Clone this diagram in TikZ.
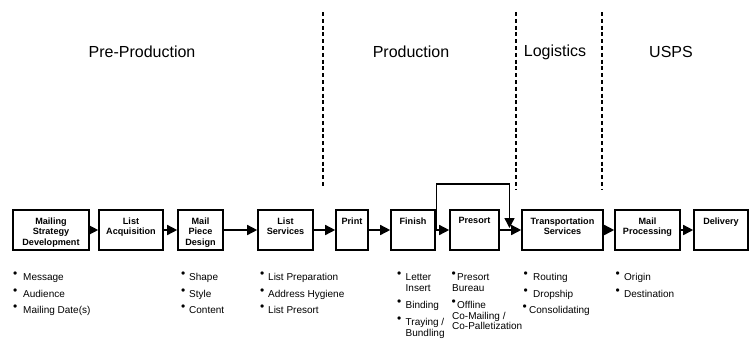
\documentclass[tikz,border=0pt]{standalone}
\usepackage{fontspec}
\setmainfont{Liberation Sans}
\usetikzlibrary{arrows.meta}
\newcommand\bitem[2]{\makebox[#1pt][l]{\raisebox{2.6pt}{\fontsize{12}{12}\selectfont\textbullet}}#2}
\tikzset{
  x=1pt, y=-1pt,
  box/.style={draw, line width=1.6pt, minimum height=40pt, inner sep=0pt},
  lbl/.style={anchor=north, inner sep=0pt, align=center, font=\bfseries\fontsize{9.1}{10.5}\selectfont},
  arr/.style={line width=1.5pt, -{Triangle[length=10pt,width=10pt]}},
  loopline/.style={line width=1.4pt, -{Triangle[length=10pt,width=10pt]}},
  sep/.style={line width=1.3pt, dash pattern=on 4pt off 2.8pt},
  title/.style={font=\fontsize{16}{19}\selectfont, inner sep=0pt},
  item/.style={anchor=base west, inner sep=0pt, font=\fontsize{10}{11}\selectfont},
}
\begin{document}
\begin{tikzpicture}
\useasboundingbox (0,0) rectangle (755,341);
% phase separators
\draw[sep] (323,12) coordinate (s1a) -- (323,188) coordinate (s1b);
\draw[sep] (516,12) coordinate (s2a) -- (516,190) coordinate (s2b);
\draw[sep] (602,12) coordinate (s3a) -- (602,190) coordinate (s3b);
% titles
\node[title] (t1) at (142,52) {Pre-Production};
\node[title] (t2) at (411,52) {Production};
\node[title] (t3) at (555,52) {Logistics};
\node[title] (t4) at (671,52) {USPS};
% boxes
\node[box, minimum width=76pt] (b1) at (51,230) {};
\node[box, minimum width=64pt] (b2) at (131,230) {};
\node[box, minimum width=45pt] (b3) at (200.5,230) {};
\node[box, minimum width=55pt] (b4) at (285.5,230) {};
\node[box, minimum width=32pt] (b5) at (352,230) {};
\node[box, minimum width=44pt] (b6) at (413,230) {};
\node[box, minimum width=49pt] (b7) at (474.5,230) {};
\node[box, minimum width=81pt] (b8) at (562.5,230) {};
\node[box, minimum width=65pt] (b9) at (647.5,230) {};
\node[box, minimum width=54pt] (b10) at (721,230) {};
% box labels
\node[lbl] (l1) at ([yshift=-8pt]b1.north) {Mailing\\Strategy\\Development};
\node[lbl] (l2) at ([yshift=-8pt]b2.north) {List\\Acquisition};
\node[lbl] (l3) at ([yshift=-8pt]b3.north) {Mail\\Piece\\Design};
\node[lbl] (l4) at ([yshift=-8pt]b4.north) {List\\Services};
\node[lbl] (l5) at ([yshift=-8pt]b5.north) {Print};
\node[lbl] (l6) at ([yshift=-8pt]b6.north) {Finish};
\node[lbl] (l7) at ([yshift=-8pt]b7.north) {Presort};
\node[lbl] (l8) at ([yshift=-8pt]b8.north) {Transportation\\Services};
\node[lbl] (l9) at ([yshift=-8pt]b9.north) {Mail\\Processing};
\node[lbl] (l10) at ([yshift=-8pt]b10.north) {Delivery};
% connectors
\draw[arr] (b1) -- (b2);
\draw[arr] (b2) -- (b3);
\draw[arr] (b3) -- (b4);
\draw[arr] (b4) -- (b5);
\draw[arr] (b5) -- (b6);
\draw[arr] (b6) -- (b7);
\draw[arr] (b7) -- (b8);
\draw[arr] (b8) -- (b9);
\draw[arr] (b9) -- (b10);
% bypass loop
\coordinate (lp) at (436.5,230);
\coordinate (lc1) at (436.5,184);
\coordinate (lc2) at (509.5,184);
\coordinate (lt) at (509.5,228);
\draw[loopline] (lp) -- (lc1) -- (lc2) -- (lt);
% bullet lists
\node[item] (i1a) at (13,280.5) {\bitem{10}{Message}};
\node[item] (i1b) at (13,297) {\bitem{10}{Audience}};
\node[item] (i1c) at (13,313.5) {\bitem{10}{Mailing Date(s)}};
\node[item] (i3a) at (181,280.5) {\bitem{8}{Shape}};
\node[item] (i3b) at (181,297) {\bitem{8}{Style}};
\node[item] (i3c) at (181,313.5) {\bitem{8}{Content}};
\node[item] (i4a) at (260,280.5) {\bitem{8}{List Preparation}};
\node[item] (i4b) at (260,297) {\bitem{8}{Address Hygiene}};
\node[item] (i4c) at (260,313.5) {\bitem{8}{List Presort}};
\node[item] (i6a) at (397,280.5) {\bitem{8.5}{Letter}};
\node[item] (i6b) at (405.5,291.5) {Insert};
\node[item] (i6c) at (397,308) {\bitem{8.5}{Binding}};
\node[item] (i6d) at (397,325) {\bitem{8.5}{Traying /}};
\node[item] (i6e) at (405.5,336.5) {Bundling};
\node[item] (i7a) at (451.5,280.5) {\bitem{5.5}{Presort}};
\node[item] (i7b) at (452,291.5) {Bureau};
\node[item] (i7c) at (451.5,308) {\bitem{5.5}{Offline}};
\node[item] (i7d) at (452,319) {Co-Mailing /};
\node[item] (i7e) at (452,329.5) {Co-Palletization};
\node[item] (i8a) at (523.5,280.5) {\bitem{9.5}{Routing}};
\node[item] (i8b) at (523.5,297) {\bitem{9.5}{Dropship}};
\node[item] (i8c) at (522.5,313.5) {\bitem{6.5}{Consolidating}};
\node[item] (i9a) at (615.5,280.5) {\bitem{8.5}{Origin}};
\node[item] (i9b) at (615.5,297) {\bitem{8.5}{Destination}};
\end{tikzpicture}
\end{document}
